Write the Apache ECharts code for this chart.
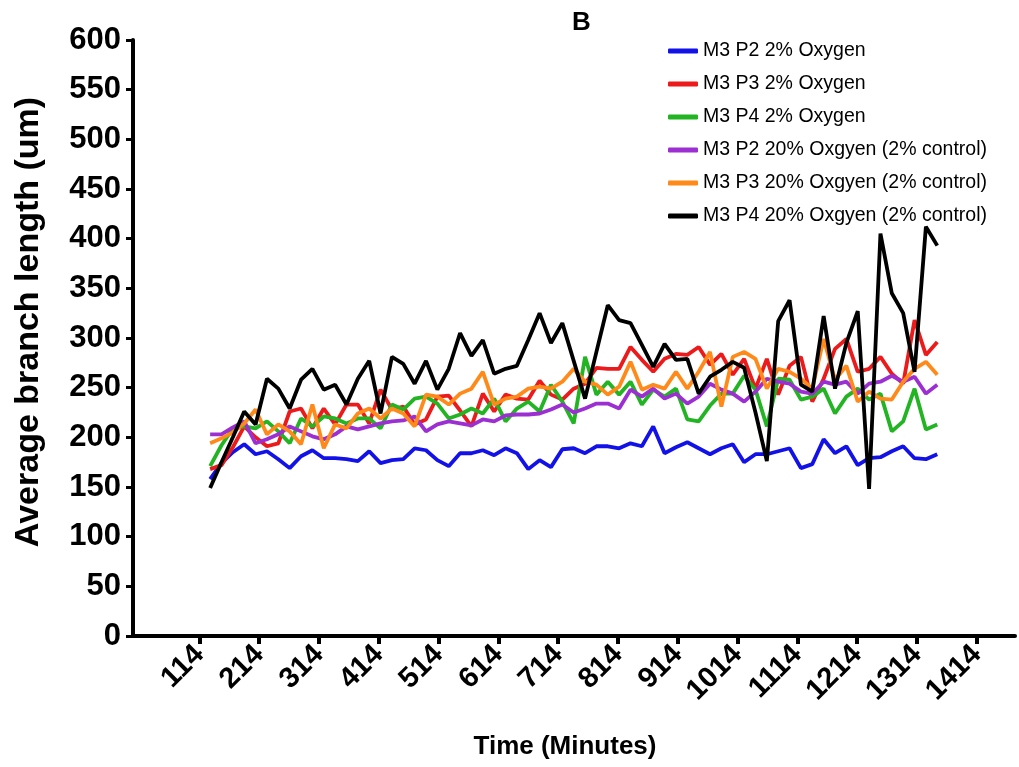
<!DOCTYPE html>
<html>
<head>
<meta charset="utf-8">
<script src="https://cdn.jsdelivr.net/npm/echarts@6/dist/echarts.min.js"></script>
<style>html,body{margin:0;padding:0;background:#fff;}#c{width:1019px;height:767px;}</style>
</head>
<body>
<div id="c"></div>
<script>
const times = [132,151,170,189,208,227,246,265,284,303,322,341,360,379,398,417,436,455,474,493,512,531,550,569,588,607,626,645,664,683,702,721,740,759,778,797,816,835,854,873,892,911,930,949,968,987,1006,1025,1044,1063,1082,1101,1120,1139,1158,1177,1196,1215,1234,1253,1272,1291,1310,1329,1348];
const xTickLabels = [114,214,314,414,514,614,714,814,914,1014,1114,1214,1314,1414];
const seriesNames = ['M3 P2 2% Oxygen','M3 P3 2% Oxygen','M3 P4 2% Oxygen','M3 P2 20% Oxgyen (2% control)','M3 P3 20% Oxgyen (2% control)','M3 P4 20% Oxgyen (2% control)'];
const p2_2 = [158,174,185,193,183,186,178,169,181,187,179,179,178,176,186,174,177,178,189,187,177,171,184,184,187,182,189,184,168,177,170,188,189,184,191,191,189,194,191,211,184,190,195,189,183,189,193,175,183,183,186,189,169,173,198,184,191,172,179,180,186,191,179,178,183];
const p3_2 = [168,172,190,211,200,191,194,226,229,209,229,213,233,233,214,248,228,231,213,218,241,242,227,211,244,226,243,239,238,257,243,238,249,254,270,269,269,291,278,266,279,284,283,291,273,284,263,279,249,279,243,272,281,236,259,289,299,266,269,281,264,254,318,283,296];
const p4_2 = [171,192,209,211,209,216,206,194,219,211,221,219,214,219,219,209,233,228,239,241,234,219,223,229,224,239,216,229,236,226,253,236,214,281,243,256,243,256,233,248,241,249,218,216,232,244,244,262,248,211,259,258,238,241,249,224,241,249,238,244,206,216,249,208,213];
const p2_20 = [203,203,210,216,194,198,203,211,206,201,198,203,211,208,211,214,216,217,221,206,213,216,214,212,218,216,222,223,223,224,228,233,225,229,234,234,229,248,241,249,239,244,234,241,254,248,244,236,246,259,256,254,246,244,256,253,256,244,254,256,262,256,261,244,253];
const p3_20 = [194,199,205,214,228,203,213,206,193,233,189,213,209,224,229,219,229,224,211,243,241,233,244,249,266,233,239,241,249,251,249,256,269,256,253,243,251,276,248,253,249,266,249,266,286,231,281,286,279,249,269,266,259,249,299,258,272,236,246,239,238,256,269,276,263];
const p4_20 = [149,175,200,226,213,259,249,229,258,269,248,253,233,259,277,224,281,274,254,277,248,269,305,282,298,264,269,272,298,325,295,315,277,239,286,333,318,315,293,271,294,278,279,244,261,268,276,270,225,176,317,338,253,246,322,249,295,327,148,405,345,325,266,412,393];
const colors = ['#1212e8','#ec1a1a','#22b422','#9b2fd2','#ff8a1a','#000000'];
const allValues = [p2_2,p3_2,p4_2,p2_20,p3_20,p4_20];

const FONT = 'Liberation Sans, Arial, sans-serif';
const chart = echarts.init(document.getElementById('c'), null, {renderer:'canvas'});
chart.setOption({
  animation:false,
  backgroundColor:'#fff',
  title:{text:'B', left:567, top:5, textStyle:{fontFamily:FONT, fontWeight:'bold', fontSize:26, color:'#000'}},
  legend:{
    orient:'vertical', left:663, top:36, itemWidth:30, itemHeight:5, itemGap:13,
    icon:'roundRect',
    textStyle:{fontFamily:FONT, fontSize:19.5, color:'#000', lineHeight:19},
    data:seriesNames
  },
  grid:{left:133, right:4, top:40, bottom:131, containLabel:false},
  xAxis:{
    type:'value', min:3, max:1478,
    name:'Time (Minutes)', nameLocation:'middle', nameGap:98,
    nameTextStyle:{fontFamily:FONT, fontWeight:'bold', fontSize:26, color:'#000', padding:[0,18,0,0]},
    axisLine:{show:true, onZero:false, lineStyle:{color:'#000', width:4}},
    axisTick:{show:true, length:8, lineStyle:{color:'#000', width:4}, customValues:xTickLabels},
    axisLabel:{rotate:45, margin:14, fontFamily:FONT, fontWeight:'bold', fontSize:29, color:'#000', customValues:xTickLabels, formatter:function(v){return String(v);}},
    splitLine:{show:false}
  },
  yAxis:{
    type:'value', min:0, max:600, interval:50,
    name:'Average branch length (um)', nameLocation:'middle', nameGap:87,
    nameTextStyle:{fontFamily:FONT, fontWeight:'bold', fontSize:34, color:'#000', padding:[0,0,0,32]},
    axisLine:{show:true, lineStyle:{color:'#000', width:4}},
    axisTick:{show:true, length:7, lineStyle:{color:'#000', width:3}},
    axisLabel:{margin:12, fontFamily:FONT, fontWeight:'bold', fontSize:31, color:'#000'},
    splitLine:{show:false}
  },
  series: seriesNames.map((n,i)=>({
    name:n, type:'line', showSymbol:false, symbol:'none',
    data: times.map((t,j)=>[t, allValues[i][j]]),
    lineStyle:{color:colors[i], width:3.8},
    itemStyle:{color:colors[i]},
    z: 2+i
  }))
});
</script>
</body>
</html>
